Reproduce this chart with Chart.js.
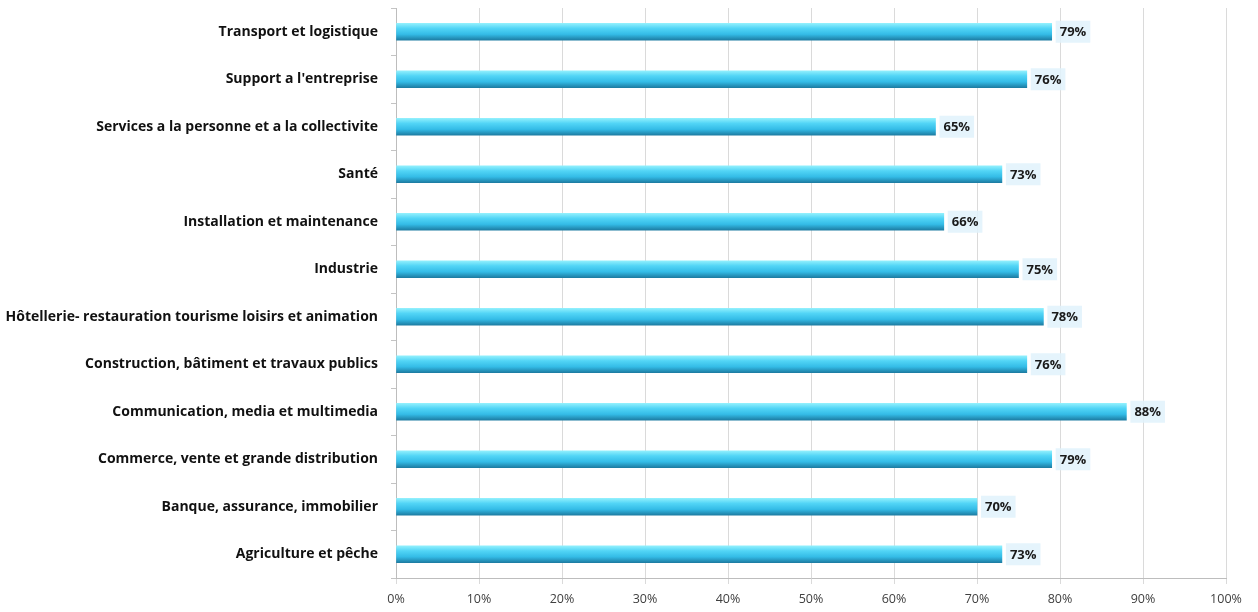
<!DOCTYPE html>
<html>
<head>
<meta charset="utf-8">
<script src="https://cdn.jsdelivr.net/npm/chart.js@4/dist/chart.umd.min.js"></script>
<style>
  html, body { margin: 0; padding: 0; background: #fff; }
  #wrap { width: 1258px; height: 612px; }
</style>
</head>
<body>
<div id="wrap"><canvas id="myChart"></canvas></div>
<script>
const categories = [
    'Transport et logistique',
    "Support a l'entreprise",
    'Services a la personne et a la collectivite',
    'Santé',
    'Installation et maintenance',
    'Industrie',
    'Hôtellerie- restauration tourisme loisirs et animation',
    'Construction, bâtiment et travaux publics',
    'Communication, media et multimedia',
    'Commerce, vente et grande distribution',
    'Banque, assurance, immobilier',
    'Agriculture et pêche'
]
const values = [79, 76, 65, 73, 66, 75, 78, 76, 88, 79, 70, 73]
const xTicks = [0, 10, 20, 30, 40, 50, 60, 70, 80, 90, 100]

const BAR_H = 17
const FONT = "'Open Sans', 'Liberation Sans', sans-serif"

// cylinder-like shading, one gradient per bar
let barFill = (context) => {
    const chart = context.chart
    const y = chart.scales.y
    if (!y || context.dataIndex === undefined) return '#3cc6ee'
    const mid = y.getPixelForValue(context.dataIndex)
    if (!isFinite(mid)) return '#3cc6ee'
    const g = chart.ctx.createLinearGradient(0, mid - BAR_H / 2, 0, mid + BAR_H / 2)
    g.addColorStop(0, '#92f0fd')
    g.addColorStop(0.3, '#52d5f6')
    g.addColorStop(0.65, '#34bce7')
    g.addColorStop(1, '#1d7ca2')
    return g
}

// value labels with a pale box, right of each bar
const valueLabels = {
    id: 'valueLabels',
    afterDatasetsDraw(chart) {
        const ctx = chart.ctx
        const meta = chart.getDatasetMeta(0)
        ctx.save()
        ctx.font = 'bold 13px ' + FONT
        ctx.textBaseline = 'middle'
        meta.data.forEach((bar, i) => {
            const txt = values[i] + '%'
            const w = ctx.measureText(txt).width
            const x = bar.x + 8
            ctx.fillStyle = 'rgba(224, 242, 251, 0.85)'
            ctx.fillRect(x - 4, bar.y - 11, w + 8, 22)
            ctx.fillStyle = '#1a1a1a'
            ctx.fillText(txt, x, bar.y + 1)
        })
        ctx.restore()
    }
}

const dataset = {
    labels: categories,
    datasets: [{
        data: values,
        backgroundColor: barFill,
        borderWidth: 0,
        barThickness: BAR_H
    }]
}

const config = {
    type: 'bar',
    data: dataset,
    options: {
        indexAxis: 'y',
        responsive: true,
        maintainAspectRatio: false,
        animation: false,
        layout: { padding: { top: 8, right: 32, bottom: 0, left: 0 } },
        plugins: {
            legend: { display: false },
            tooltip: { enabled: false }
        },
        scales: {
            x: {
                min: 0,
                max: 100,
                afterBuildTicks: (scale) => { scale.ticks = xTicks.map(v => ({ value: v })) },
                grid: {
                    color: '#dadada',
                    tickLength: 6,
                    drawTicks: true
                },
                border: { color: '#bdbdbd' },
                ticks: {
                    callback: (v) => v + '%',
                    color: '#404040',
                    font: { family: FONT, size: 12.5 },
                    padding: 8,
                    maxRotation: 0
                },
                afterFit: (scale) => { scale.height = 34 }
            },
            y: {
                grid: {
                    offset: true,
                    drawOnChartArea: false,
                    tickLength: 5,
                    color: '#c4c4c4'
                },
                border: { color: '#bdbdbd' },
                ticks: {
                    color: '#111',
                    font: { family: FONT, size: 14, weight: 'bold' },
                    padding: 13
                },
                afterFit: (scale) => {
                    scale.width = 396
                    scale.paddingTop = 0
                    scale.paddingBottom = 0
                }
            }
        }
    },
    plugins: [valueLabels]
}

const chart = new Chart(document.getElementById('myChart'), config)
</script>
</body>
</html>
